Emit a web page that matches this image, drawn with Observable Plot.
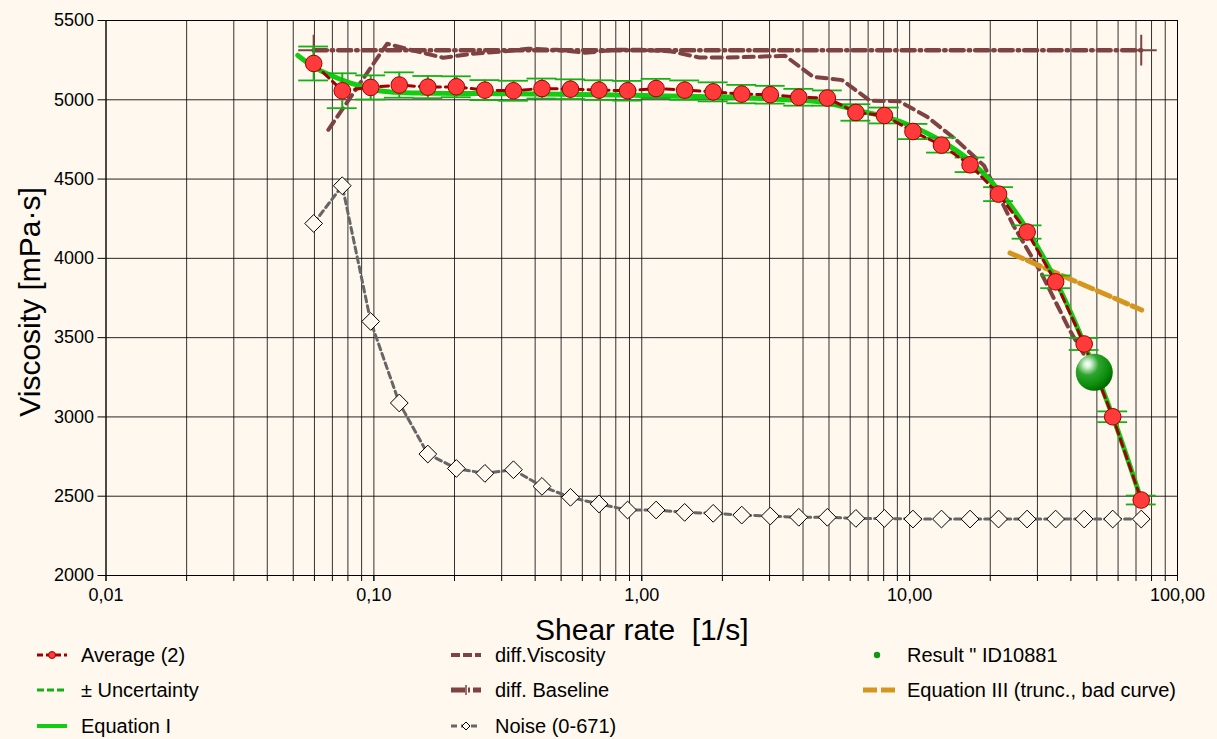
<!DOCTYPE html>
<html><head><meta charset="utf-8">
<script src="https://cdn.jsdelivr.net/npm/d3@7"></script>
<script src="https://cdn.jsdelivr.net/npm/@observablehq/plot@0.6"></script>
<style>
html,body{margin:0;padding:0;background:#fef8ee;}
body{width:1217px;height:739px;overflow:hidden;font-family:"Liberation Sans",Arial,sans-serif;}
#legend{position:relative;height:99px;width:1217px;}
.mk{position:absolute;width:34px;height:24px;}
.tx{position:absolute;font-size:20px;line-height:24px;height:24px;color:#000;white-space:pre;}
</style></head><body>
<div id="chart"></div>
<div id="legend"></div>
<script>
// ---- data ----
const shearRate = [0.0596, 0.0762, 0.0973, 0.1244, 0.159, 0.2032, 0.2597, 0.3319, 0.4241, 0.542, 0.6927, 0.8853, 1.131, 1.446, 1.848, 2.362, 3.018, 3.857, 4.929, 6.30, 8.05, 10.29, 13.15, 16.81, 21.48, 27.45, 35.08, 44.83, 57.30, 73.22];
const avgViscosity = [5229, 5057, 5078, 5093, 5080, 5082, 5061, 5057, 5071, 5067, 5061, 5057, 5071, 5061, 5050, 5036, 5032, 5016, 5011, 4920, 4901, 4800, 4714, 4590, 4405, 4166, 3852, 3460, 3001, 2476];
const uncertainty = [107, 110, 76, 80, 70, 66, 63, 63, 63, 62, 62, 62, 61, 61, 60, 58, 56, 53, 48, 52, 50, 48, 47, 46, 44, 42, 40, 38, 34, 28];
const noiseValues = [4220, 4458, 3602, 3088, 2766, 2675, 2644, 2667, 2562, 2493, 2451, 2413, 2413, 2398, 2392, 2381, 2375, 2367, 2367, 2360, 2360, 2356, 2356, 2356, 2356, 2356, 2356, 2356, 2356, 2356];

const eqIRate = [0.052, 0.06, 0.07, 0.08, 0.09, 0.1, 0.12, 0.15, 0.2, 0.3, 0.5, 0.8, 1.13, 1.6, 2.36, 3.0, 3.86, 4.93, 6.3, 8.05, 10.3, 13.15, 16.8, 21.5, 27.5, 35.1, 44.8, 57.3, 73.2];
const eqIVisc = [5280, 5205, 5150, 5112, 5085, 5062, 5048, 5042, 5040, 5038, 5035, 5030, 5025, 5020, 5015, 5005, 4997, 4980, 4935, 4895, 4830, 4740, 4615, 4430, 4180, 3860, 3465, 3005, 2478];

const eqIIIRate = [23.7, 73.5];
const eqIIIVisc = [4034, 3674];

const diffViscRate = [0.0676, 0.112, 0.1416, 0.1816, 0.2312, 0.2965, 0.3772, 0.4838, 0.6155, 0.7897, 1.004, 1.289, 1.639, 2.103, 2.674, 3.431, 4.364, 5.6, 7.121, 9.138, 11.62, 14.91, 18.97, 24.33, 30.96, 39.71, 44.6];
const diffViscVal = [4811, 5353, 5309, 5265, 5290, 5303, 5322, 5315, 5296, 5315, 5315, 5305, 5267, 5267, 5271, 5277, 5145, 5124, 4994, 4991, 4893, 4748, 4584, 4211, 3909, 3543, 3399];

const baselineRate = [0.0596, 73.22];
const baselineVal = [5313, 5313];

const resultRate = [48.9];
const resultVisc = [3281];

const yTicks = [2000, 2500, 3000, 3500, 4000, 4500, 5000, 5500];
const xTicks = [0.01, 0.1, 1, 10, 100];
const xTickLabels = ["0,01", "0,10", "1,00", "10,00", "100,00"];

const legendLabels = ["Average (2)", "± Uncertainty", "Equation I", "diff.Viscosity", "diff. Baseline", "Noise (0-671)", "Result \" ID10881", "Equation III (trunc., bad curve)"];

// ---- build tables ----
const avg = shearRate.map((x, i) => ({x, v: avgViscosity[i], u: uncertainty[i]}));
const noise = shearRate.map((x, i) => ({x, v: noiseValues[i]}));
const eqI = eqIRate.map((x, i) => ({x, v: eqIVisc[i]}));
const eqIII = eqIIIRate.map((x, i) => ({x, v: eqIIIVisc[i]}));
const diffVisc = diffViscRate.map((x, i) => ({x, v: diffViscVal[i]}));
const baseline = baselineRate.map((x, i) => ({x, v: baselineVal[i]}));
const result = resultRate.map((x, i) => ({x, v: resultVisc[i]}));
const xLabelOf = new Map(xTicks.map((t, i) => [t, xTickLabels[i]]));

const minorTicks = d3.scaleLog().domain([0.01, 100]).ticks();
const capF = 1.137;

const cRed = "#a00000", cGreen = "#11cc11", cUnc = "#14b014", cBrown = "#7f4242", cNoise = "#666666", cOrange = "#d4961e";

const chart = Plot.plot({
  width: 1217, height: 640,
  marginLeft: 105.5, marginRight: 40, marginTop: 20, marginBottom: 65,
  x: {type: "log", domain: [0.01, 100]},
  y: {domain: [2000, 5500]},
  style: {background: "#fef8ee", fontFamily: "Liberation Sans, Arial, sans-serif", color: "#000", overflow: "visible"},
  marks: [
    Plot.gridX(minorTicks, {stroke: "#000", strokeOpacity: 0.8}),
    Plot.gridY(yTicks, {stroke: "#000", strokeOpacity: 0.85}),
    Plot.frame({stroke: "#000"}),
    Plot.axisY({ticks: yTicks, tickSize: 8, tickPadding: 4, fontSize: 18, tickFormat: d3.format("d"), label: null}),
    Plot.axisX({ticks: minorTicks, tickSize: 6, text: null, label: null}),
    Plot.axisX({ticks: xTicks, tickSize: 6, tickPadding: 7, fontSize: 18, tickFormat: d => xLabelOf.get(d), label: null}),
    Plot.text(["Viscosity [mPa·s]"], {frameAnchor: "left", textAnchor: "middle", rotate: -90, dx: -76, dy: 4, fontSize: 30}),
    Plot.text(["Shear rate\u00a0 [1/s]"], {frameAnchor: "bottom", dy: 64, fontSize: 30}),
    // noise
    Plot.line(noise, {x: "x", y: "v", stroke: cNoise, strokeWidth: 3, strokeDasharray: "6,4"}),
    Plot.dot(noise, {x: "x", y: "v", symbol: "diamond2", r: 8, stroke: "#000", strokeWidth: 1, fill: "#fef8ee"}),
    // baseline
    Plot.line(baseline, {x: "x", y: "v", stroke: cBrown, strokeWidth: 4.5, strokeDasharray: "13,5,1.5,5"}),
    Plot.dot(baseline, {x: "x", y: "v", symbol: "plus", r: 10, stroke: cBrown, strokeWidth: 2}),
    // diff viscosity
    Plot.line(diffVisc, {x: "x", y: "v", stroke: cBrown, strokeWidth: 4, strokeDasharray: "10,6"}),
    // equation III
    Plot.line(eqIII, {x: "x", y: "v", stroke: cOrange, strokeWidth: 5, strokeDasharray: "14,5"}),
    // equation I
    Plot.line(eqI, {x: "x", y: "v", stroke: cGreen, strokeWidth: 5, curve: "monotone-x"}),
    // uncertainty
    Plot.ruleX(avg, {x: "x", y1: d => d.v - d.u, y2: d => d.v + d.u, stroke: cUnc, strokeWidth: 2}),
    Plot.ruleY(avg, {y: d => d.v + d.u, x1: d => d.x / capF, x2: d => d.x * capF, stroke: cUnc, strokeWidth: 1.8}),
    Plot.ruleY(avg, {y: d => d.v - d.u, x1: d => d.x / capF, x2: d => d.x * capF, stroke: cUnc, strokeWidth: 1.8}),
    // average
    Plot.line(avg, {x: "x", y: "v", stroke: cRed, strokeWidth: 3, strokeDasharray: "8,5"}),
    Plot.dot(avg, {x: "x", y: "v", r: 8.3, fill: "#ff3a3a", stroke: cRed, strokeWidth: 1}),
    // result
    Plot.dot(result, {x: "x", y: "v", r: 18.5, fill: "url(#ballGrad)"})
  ]
});
d3.select(chart).insert("defs", ":first-child").html(
  '<radialGradient id="ballGrad" cx="0.32" cy="0.28" r="0.75">' +
  '<stop offset="0" stop-color="#ffffff"/><stop offset="0.12" stop-color="#d8f2d8"/>' +
  '<stop offset="0.4" stop-color="#2ea52e"/><stop offset="0.8" stop-color="#0a8a0a"/><stop offset="1" stop-color="#006a00"/></radialGradient>');
document.getElementById("chart").appendChild(chart);

// ---- legend ----
const legend = document.getElementById("legend");
const rowY = [15, 50, 85.5];
const colMk = [36, 450, 862];
const colTx = [81, 495, 907];
const markers = [
  `<line x1="1" x2="31" y1="12" y2="12" stroke="${cRed}" stroke-width="3" stroke-dasharray="6,3"/><circle cx="16" cy="12" r="3.5" fill="#ff3a3a" stroke="${cRed}"/>`,
  `<line x1="1" x2="31" y1="12" y2="12" stroke="${cUnc}" stroke-width="3" stroke-dasharray="7,3"/>`,
  `<line x1="1" x2="31" y1="12" y2="12" stroke="${cGreen}" stroke-width="4"/>`,
  `<line x1="1" x2="31" y1="12" y2="12" stroke="${cBrown}" stroke-width="4" stroke-dasharray="9,3"/>`,
  `<line x1="1" x2="31" y1="12" y2="12" stroke="${cBrown}" stroke-width="5" stroke-dasharray="14,3,2,3"/><line x1="16" x2="16" y1="7" y2="17" stroke="${cBrown}" stroke-width="1.5"/>`,
  `<line x1="1" x2="31" y1="12" y2="12" stroke="${cNoise}" stroke-width="3" stroke-dasharray="6,4"/><path d="M16,8L20,12L16,16L12,12Z" fill="#fef8ee" stroke="#000"/>`,
  `<circle cx="15" cy="12" r="3.2" fill="#119911"/>`,
  `<line x1="1" x2="33" y1="12" y2="12" stroke="${cOrange}" stroke-width="5" stroke-dasharray="14,4"/>`
];
legendLabels.forEach((lab, i) => {
  const col = Math.floor(i / 3), row = i % 3;
  const mk = document.createElement("div");
  mk.className = "mk";
  mk.style.left = colMk[col] + "px";
  mk.style.top = (rowY[row] - 12) + "px";
  mk.innerHTML = `<svg width="34" height="24">${markers[i]}</svg>`;
  legend.appendChild(mk);
  const tx = document.createElement("div");
  tx.className = "tx";
  tx.style.left = colTx[col] + "px";
  tx.style.top = (rowY[row] - 12) + "px";
  tx.textContent = lab;
  legend.appendChild(tx);
});
</script>
</body></html>
